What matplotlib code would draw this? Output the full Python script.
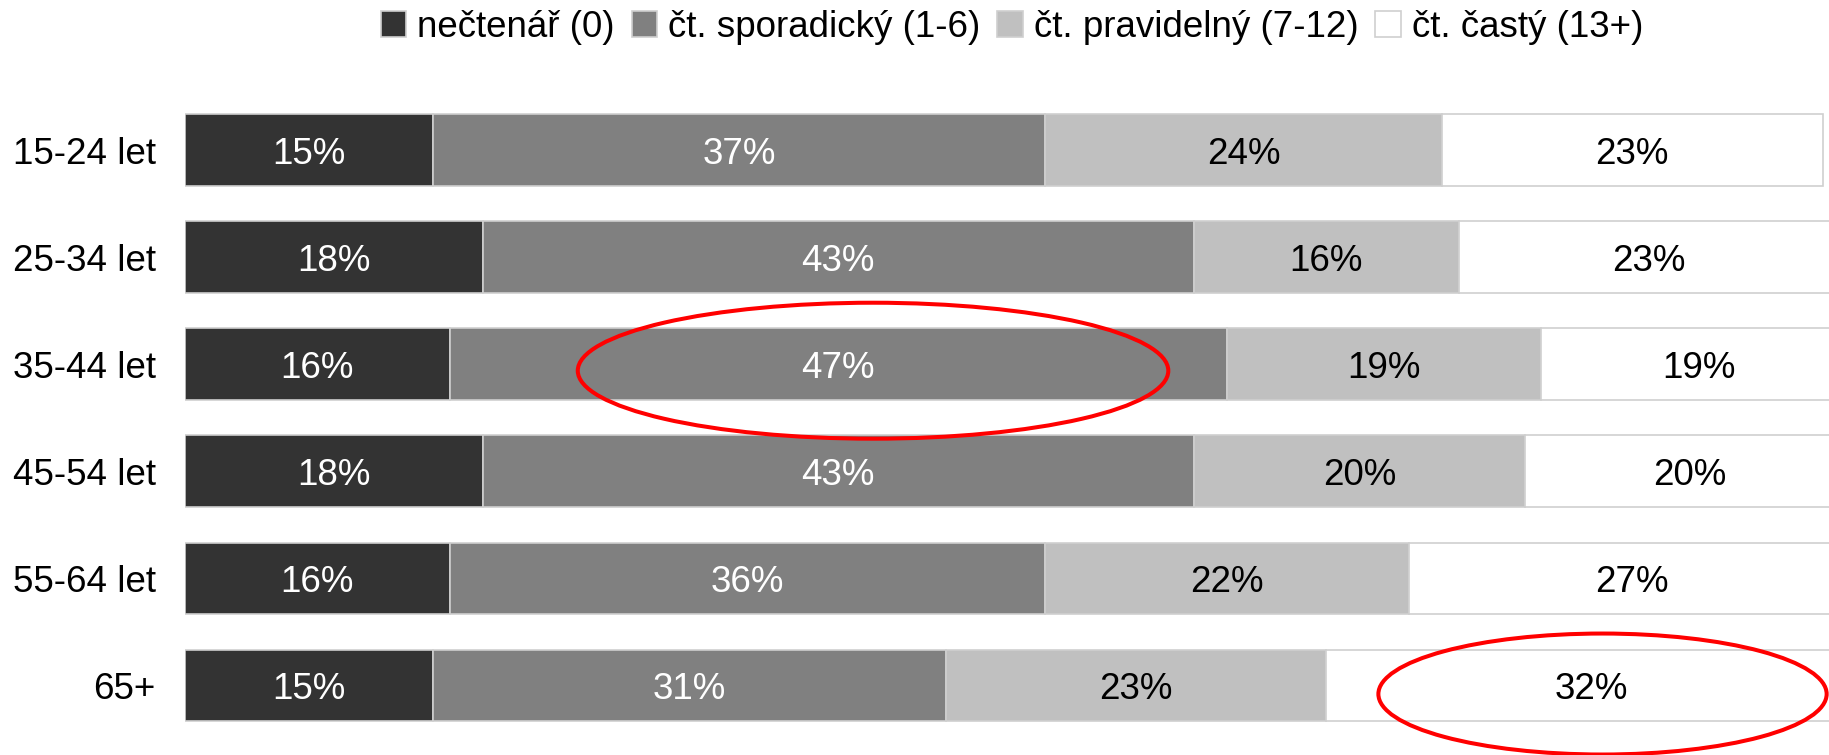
import matplotlib.pyplot as plt
from matplotlib.patches import Ellipse, Patch

plt.rcParams['font.family'] = ['Liberation Sans', 'DejaVu Sans']

groups = ["15-24 let", "25-34 let", "35-44 let", "45-54 let", "55-64 let", "65+"]
series = ["nečtenář (0)", "čt. sporadický (1-6)", "čt. pravidelný (7-12)", "čt. častý (13+)"]
nectenar = [15, 18, 16, 18, 16, 15]
sporadicky = [37, 43, 47, 43, 36, 31]
pravidelny = [24, 16, 19, 20, 22, 23]
casty = [23, 23, 19, 20, 27, 32]

colors = ["#333333", "#808080", "#c0c0c0", "#ffffff"]
text_colors = ["white", "white", "black", "black"]

fig = plt.figure(figsize=(18.29, 7.55), dpi=100)
ax = fig.add_axes([0.1011, 0.0212, 0.9044, 0.8508])

left = [0] * len(groups)
for vals, col, tcol in zip([nectenar, sporadicky, pravidelny, casty], colors, text_colors):
    ax.barh(range(len(groups)), vals, left=left, height=0.67, color=col,
            edgecolor="#cfcfcf", linewidth=1.2)
    for i, v in enumerate(vals):
        ax.text(left[i] + v / 2, i, f"{v}%", ha="center", va="center_baseline",
                color=tcol, fontsize=26.5)
    left = [a + b for a, b in zip(left, vals)]

ax.set_xlim(0, 100)
ax.set_ylim(5.5, -0.5)
ax.set_yticks(range(len(groups)))
ax.set_yticklabels(groups, fontsize=26.5, va="center_baseline")
ax.tick_params(axis="y", length=0, pad=21)
ax.set_xticks([])
for s in ax.spines.values():
    s.set_visible(False)

# red highlight ellipses
for cx, cy, w, h in [(41.6, 2.06, 35.7, 1.27), (85.7, 5.08, 27.1, 1.13)]:
    ax.add_patch(Ellipse((cx, cy), w, h, fill=False, edgecolor="#ff0000",
                         linewidth=2.9, clip_on=False, zorder=5))

handles = [Patch(facecolor=c, edgecolor="#cfcfcf", linewidth=1.2) for c in colors]
ax.legend(handles, series, loc="center", bbox_to_anchor=(0.5, 1.108), ncol=4,
          frameon=False, fontsize=26.5, handlelength=0.7, handleheight=0.7,
          handletextpad=0.3, columnspacing=0.45, borderaxespad=0)

fig.savefig("out.png", dpi=100)
